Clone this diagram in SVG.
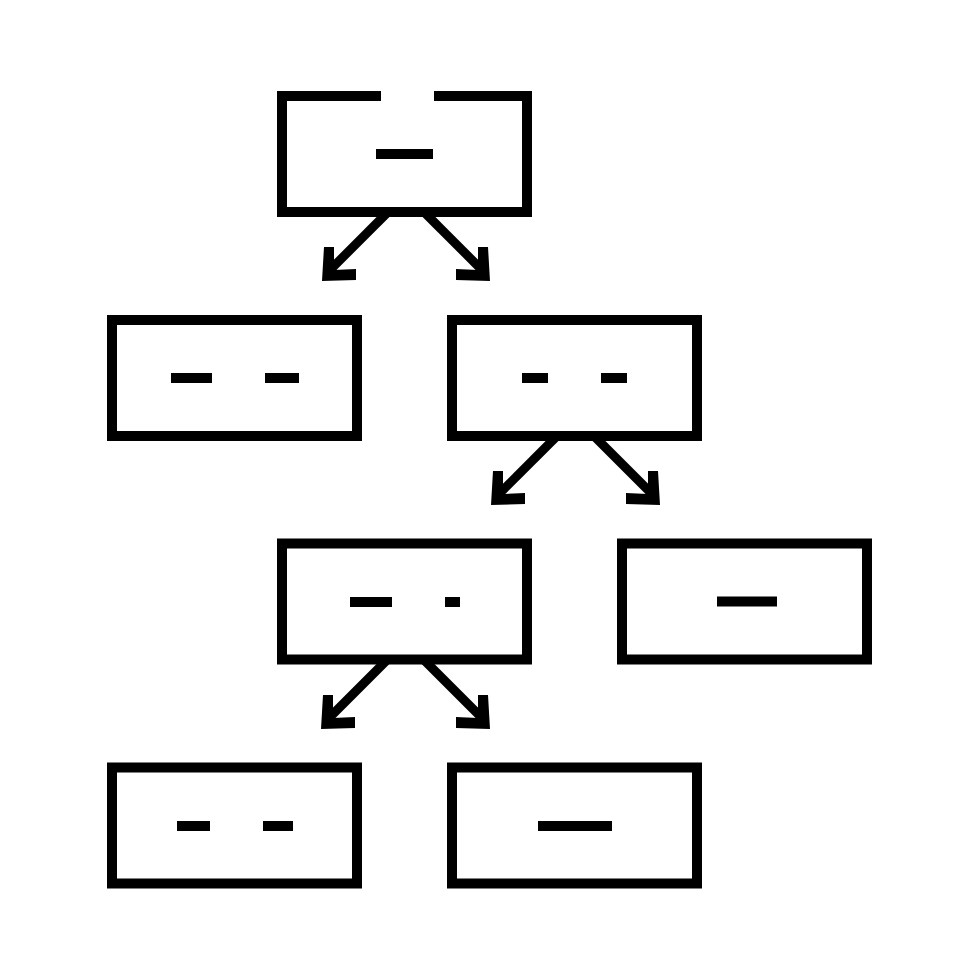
<svg xmlns="http://www.w3.org/2000/svg" xmlns:xlink="http://www.w3.org/1999/xlink" width="980" height="980" viewBox="0 0 980 980">
  <defs>
    <style>
      .box { fill: none; stroke: #000; stroke-width: 10; stroke-linejoin: miter; stroke-linecap: butt; }
      .dash { fill: #000; }
      .shaft { stroke: #000; stroke-width: 9; stroke-linecap: butt; fill: none; }
      .head { fill: #000; }
    </style>
    <g id="arrow">
      <line class="shaft" x1="6" y1="-9" x2="67" y2="-70"/>
      <polygon class="head" points="0,0 2,-34 12,-34 12,-11 34,-12 34,-1"/>
    </g>
  </defs>
  <rect width="980" height="980" fill="#fff"/>

  <g id="connectors">
    <use xlink:href="#arrow" transform="translate(322,281)"/>
    <use xlink:href="#arrow" transform="translate(490,281) scale(-1,1)"/>
    <use xlink:href="#arrow" transform="translate(491,505)"/>
    <use xlink:href="#arrow" transform="translate(660,505) scale(-1,1)"/>
    <use xlink:href="#arrow" transform="translate(321,729)"/>
    <use xlink:href="#arrow" transform="translate(490,729) scale(-1,1)"/>
  </g>

  <g id="node1">
    <path class="box" d="M381 96 H282 V212 H527 V96 H434"/>
    <rect class="dash" x="376" y="149" width="57" height="10"/>
  </g>
  <g id="node2">
    <rect class="box" x="112" y="320" width="245" height="116"/>
    <rect class="dash" x="171" y="373" width="41" height="10"/>
    <rect class="dash" x="265" y="373" width="34" height="10"/>
  </g>
  <g id="node3">
    <rect class="box" x="452" y="320" width="245" height="116"/>
    <rect class="dash" x="522" y="373" width="26" height="10"/>
    <rect class="dash" x="601" y="373" width="26" height="10"/>
  </g>
  <g id="node4">
    <rect class="box" x="282" y="543.5" width="245" height="116"/>
    <rect class="dash" x="350" y="597" width="42" height="10"/>
    <rect class="dash" x="445" y="597" width="15" height="10"/>
  </g>
  <g id="node5">
    <rect class="box" x="622" y="543.5" width="245" height="116"/>
    <rect class="dash" x="717" y="596.5" width="60" height="10"/>
  </g>
  <g id="node6">
    <rect class="box" x="112" y="767.5" width="245" height="116"/>
    <rect class="dash" x="177" y="821" width="33" height="10"/>
    <rect class="dash" x="263" y="821" width="30" height="10"/>
  </g>
  <g id="node7">
    <rect class="box" x="452" y="767.5" width="245" height="116"/>
    <rect class="dash" x="538" y="821" width="74" height="10"/>
  </g>
</svg>
